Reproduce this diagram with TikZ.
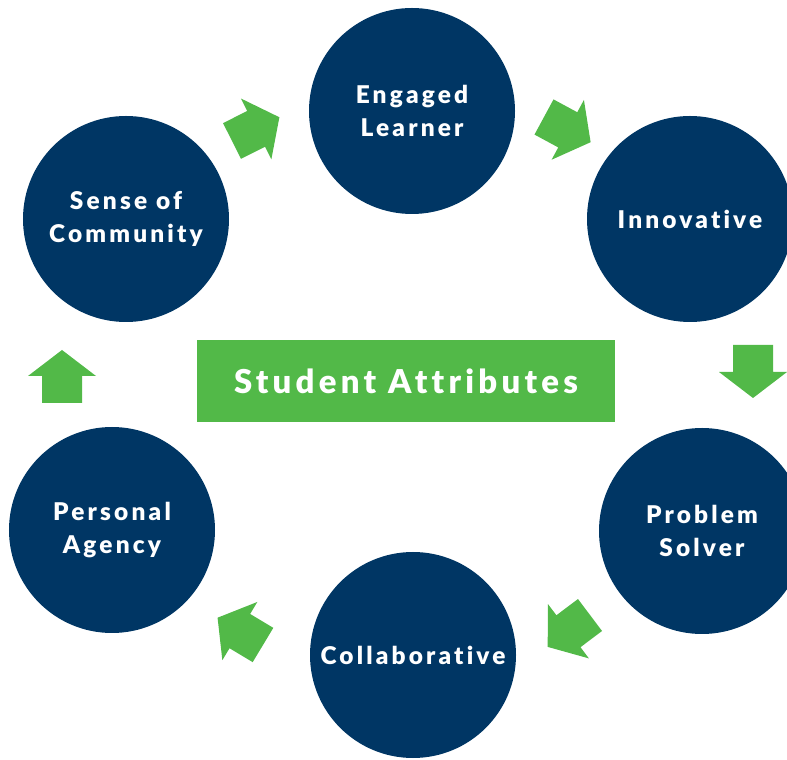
\documentclass[tikz,border=0pt]{standalone}
\usepackage{fontspec}
\setmainfont{Lato}
\newfontfamily\attrfont[LetterSpace=13, Ligatures=NoCommon, BoldFont={Lato Black}]{Lato}
\usetikzlibrary{positioning}
\definecolor{attrNavy}{RGB}{0,54,100}
\definecolor{attrGreen}{RGB}{82,185,72}

\begin{document}
\begin{tikzpicture}[
    x=1bp, y=1bp,
    attr/.style={circle, fill=attrNavy, minimum size=206bp, inner sep=0pt,
                 text=white, align=center,
                 font=\attrfont\bfseries\fontsize{24.5}{33}\selectfont},
    title/.style={rectangle, fill=attrGreen, minimum width=418bp, minimum height=82bp,
                  text=white, font=\attrfont\bfseries\fontsize{33}{38}\selectfont},
    blockarrow/.pic={
      \fill[attrGreen] (0,-20) -- (27,-20) -- (27,-34) -- (53,0)
                       -- (27,34) -- (27,20) -- (0,20) -- cycle;
    }
  ]
  \useasboundingbox (0,0) rectangle (787,760);
  \clip (0,0) rectangle (787,760);

  % The six attributes
  \node[attr] (engaged)   at (412,649) {Engaged\\Learner};
  \node[attr] (innov)     at (690,541) {Innovative};
  \node[attr] (solver)    at (702,229) {Problem\\Solver};
  \node[attr] (collab)    at (413,105) {Collaborative};
  \node[attr] (agency)    at (112,230) {Personal\\Agency};
  \node[attr] (community) at (126,541) {Sense of\\Community};

  % Centre label
  \node[title] (student) at (406,379) {Student Attributes};

  % Block arrows round the cycle
  \pic[rotate=26.6]  at (232,619) {blockarrow};
  \pic[rotate=-28.4] at (544,643) {blockarrow};
  \pic[rotate=-90]   at (753,415) {blockarrow};
  \pic[rotate=217]   at (590,145) {blockarrow};
  \pic[rotate=149]   at (263,115) {blockarrow};
  \pic[rotate=90]    at (62,357)  {blockarrow};
\end{tikzpicture}
\end{document}
